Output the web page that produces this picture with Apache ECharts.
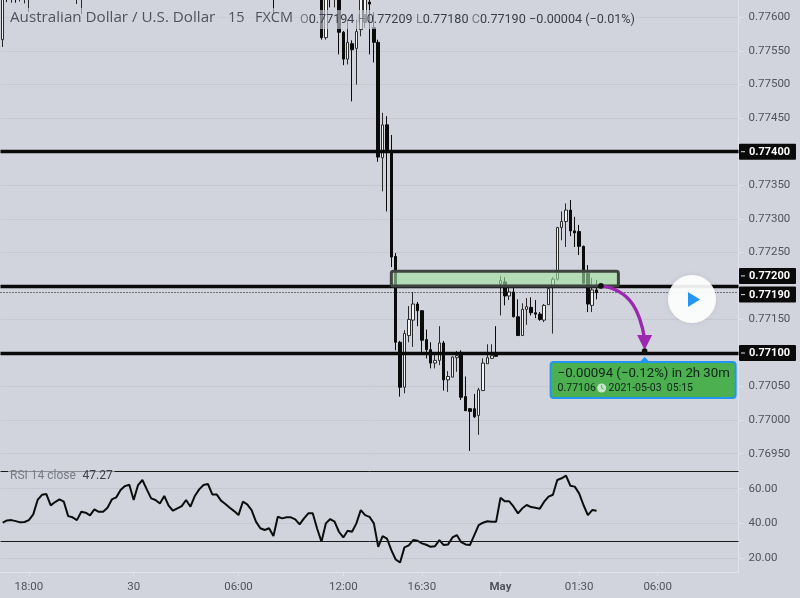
<!DOCTYPE html>
<html><head><meta charset="utf-8">
<style>html,body{margin:0;padding:0;background:#d1d4dc}#c{width:800px;height:598px}</style>
<script src="https://cdn.jsdelivr.net/npm/echarts@6/dist/echarts.min.js"></script>
</head><body><div id="c"></div>
<script>
// [open, high, low, close] per 15-minute bar
const priceBars = [
[0.77567,0.77670,0.77556,0.77660],[0.77650,0.77665,0.77623,0.77640],[0.77640,0.77660,0.77622,0.77655],[0.77655,0.77672,0.77622,0.77640],
[0.77640,0.77660,0.77624,0.77650],[0.77650,0.77668,0.77621,0.77662],[0.77662,0.77690,0.77608,0.77680],[0.77680,0.77705,0.77665,0.77700],
[0.77700,0.77725,0.77690,0.77715],[0.77715,0.77740,0.77700,0.77735],[0.77735,0.77750,0.77715,0.77725],[0.77725,0.77745,0.77705,0.77715],
[0.77715,0.77735,0.77695,0.77700],[0.77700,0.77720,0.77680,0.77710],[0.77710,0.77730,0.77690,0.77695],[0.77695,0.77710,0.77660,0.77670],
[0.77670,0.77685,0.77645,0.77650],[0.77650,0.77670,0.77620,0.77660],[0.77660,0.77680,0.77605,0.77670],[0.77670,0.77690,0.77650,0.77680],
[0.77680,0.77695,0.77660,0.77670],[0.77670,0.77700,0.77655,0.77690],[0.77690,0.77705,0.77670,0.77680],[0.77680,0.77700,0.77665,0.77685],
[0.77685,0.77715,0.77675,0.77705],[0.77705,0.77735,0.77695,0.77725],[0.77725,0.77745,0.77710,0.77735],[0.77735,0.77770,0.77725,0.77760],
[0.77760,0.77785,0.77745,0.77775],[0.77775,0.77795,0.77760,0.77785],[0.77785,0.77800,0.77745,0.77755],[0.77755,0.77800,0.77745,0.77790],
[0.77790,0.77825,0.77780,0.77815],[0.77815,0.77830,0.77785,0.77795],[0.77795,0.77810,0.77765,0.77775],[0.77775,0.77790,0.77755,0.77770],
[0.77770,0.77785,0.77750,0.77760],[0.77760,0.77790,0.77750,0.77780],[0.77780,0.77795,0.77745,0.77755],[0.77755,0.77770,0.77730,0.77740],
[0.77740,0.77760,0.77730,0.77750],[0.77750,0.77770,0.77740,0.77760],[0.77760,0.77785,0.77750,0.77775],[0.77775,0.77790,0.77750,0.77760],
[0.77760,0.77795,0.77750,0.77785],[0.77785,0.77815,0.77775,0.77805],[0.77805,0.77835,0.77795,0.77825],[0.77825,0.77845,0.77810,0.77830],
[0.77830,0.77840,0.77795,0.77805],[0.77805,0.77820,0.77790,0.77810],[0.77810,0.77820,0.77780,0.77790],[0.77790,0.77800,0.77765,0.77775],
[0.77775,0.77790,0.77750,0.77760],[0.77760,0.77775,0.77735,0.77745],[0.77745,0.77760,0.77715,0.77725],[0.77725,0.77770,0.77715,0.77760],
[0.77760,0.77775,0.77735,0.77750],[0.77750,0.77760,0.77720,0.77730],[0.77730,0.77745,0.77690,0.77700],[0.77700,0.77715,0.77670,0.77680],
[0.77680,0.77695,0.77660,0.77670],[0.77670,0.77685,0.77660,0.77680],[0.77680,0.77690,0.77605,0.77640],[0.77640,0.77705,0.77630,0.77695],
[0.77695,0.77710,0.77680,0.77690],[0.77690,0.77705,0.77680,0.77700],[0.77700,0.77715,0.77685,0.77695],[0.77695,0.77710,0.77670,0.77680],
[0.77680,0.77700,0.77660,0.77690],[0.77690,0.77720,0.77680,0.77710],[0.77710,0.77725,0.77690,0.77700],[0.77700,0.77710,0.77640,0.77650],
[0.77650,0.77665,0.77635,0.77645],[0.77640,0.77650,0.77567,0.77570],[0.77570,0.77650,0.77567,0.77640],[0.77650,0.77660,0.77615,0.77635],
[0.77645,0.77670,0.77615,0.77660],[0.77640,0.77650,0.77545,0.77578],[0.77578,0.77580,0.77529,0.77538],[0.77538,0.77597,0.77530,0.77563],
[0.77561,0.77566,0.77475,0.77552],[0.77554,0.77597,0.77500,0.77579],[0.77582,0.77640,0.77572,0.77630],[0.77593,0.77640,0.77585,0.77630],
[0.77623,0.77640,0.77545,0.77620],[0.77585,0.77608,0.77533,0.77563],[0.77563,0.77567,0.77385,0.77392],[0.77391,0.77458,0.77341,0.77440],
[0.77440,0.77453,0.77311,0.77403],[0.77400,0.77425,0.77228,0.77243],[0.77244,0.77249,0.77104,0.77116],[0.77116,0.77118,0.77035,0.77049],
[0.77049,0.77134,0.77040,0.77129],[0.77126,0.77170,0.77116,0.77150],[0.77149,0.77191,0.77109,0.77173],[0.77173,0.77176,0.77140,0.77163],
[0.77163,0.77164,0.77101,0.77119],[0.77120,0.77135,0.77092,0.77105],[0.77105,0.77116,0.77077,0.77085],[0.77085,0.77099,0.77077,0.77089],
[0.77089,0.77140,0.77082,0.77115],[0.77115,0.77118,0.77044,0.77060],[0.77060,0.77073,0.77042,0.77065],[0.77064,0.77095,0.77064,0.77094],
[0.77093,0.77103,0.77072,0.77096],[0.77101,0.77104,0.77030,0.77034],[0.77035,0.77065,0.77014,0.77014],[0.77017,0.77018,0.76954,0.77013],
[0.77017,0.77039,0.77003,0.77005],[0.77007,0.77048,0.76978,0.77045],[0.77044,0.77092,0.77044,0.77085],[0.77084,0.77113,0.77084,0.77093],
[0.77092,0.77113,0.77092,0.77096],[0.77097,0.77140,0.77094,0.77095],[0.77203,0.77215,0.77156,0.77208],[0.77206,0.77213,0.77171,0.77185],
[0.77185,0.77197,0.77179,0.77191],[0.77191,0.77197,0.77153,0.77154],[0.77154,0.77180,0.77126,0.77126],[0.77126,0.77174,0.77126,0.77165],
[0.77165,0.77182,0.77142,0.77169],[0.77168,0.77183,0.77156,0.77160],[0.77160,0.77179,0.77152,0.77158],[0.77158,0.77161,0.77148,0.77150],
[0.77149,0.77173,0.77146,0.77171],[0.77172,0.77197,0.77172,0.77196],[0.77201,0.77213,0.77129,0.77210],[0.77210,0.77288,0.77208,0.77287],
[0.77287,0.77311,0.77268,0.77296],[0.77296,0.77323,0.77258,0.77313],[0.77313,0.77328,0.77274,0.77282],[0.77282,0.77303,0.77258,0.77279],
[0.77281,0.77291,0.77246,0.77259],[0.77259,0.77260,0.77203,0.77204],[0.77219,0.77231,0.77161,0.77173],[0.77171,0.77212,0.77161,0.77194],
[0.77194,0.77209,0.77180,0.77190]
];
const rsiValues = [
40.4,41.7,41.9,41.3,40.6,40.8,41.9,45.2,53.5,56.5,56.9,50.4,52.3,53.8,52.5,44.2,43.5,41.9,46.7,46.2,44.6,48.1,46.7,46.7,49,53.8,55,59.2,61.5,62.3,
53.5,62.1,65,59.6,54.4,53.5,51.5,55.8,50.2,47.3,48.7,50,53.5,49.6,55.8,59.6,62.1,62.7,56.7,56.7,53.1,51.2,49,47.1,44.8,52.5,51,47.7,41,37.2,
36.2,37.2,32.7,43.8,42.9,43.5,43.5,42.3,39.4,42.9,45.8,45.8,37.1,29.4,40,42.5,41,35.2,31.9,35.8,35.2,40,47.7,44.8,43.8,40,26.5,32.7,31.3,24.6,
19.2,17.5,26.2,27.3,30.4,30,28.5,27.7,26.5,26.9,30.4,27.5,27.9,31.9,33.3,29.2,27.9,27.5,33.3,39,40.4,41.2,41,41,54.8,52.7,52.7,49.6,45.8,48.7,
50.6,49.4,49,48.5,52.5,55.4,56.5,65,66,67.5,61.7,61.2,57.3,50.6,44.8,47.7,47.27
];
const slotCount = 169;
const timeTickIndex = [6,30,54,78,96,114,132,150];
const timeTickLabels = ['18:00','30','06:00','12:00','16:30','May','01:30','06:00'];
const priceTicks = [0.776,0.7755,0.775,0.7745,0.7735,0.773,0.7725,0.7715,0.7705,0.77,0.7695];
const priceGrid = [0.776,0.7755,0.775,0.7745,0.774,0.7735,0.773,0.7725,0.772,0.7715,0.771,0.7705,0.77,0.7695];
const rsiTicks = [20,40,60];
const rsiBands = [70,30];
const levels = [0.774,0.772,0.771];
const lastClose = 0.7719;
const zone = {from:89,to:141,low:0.772,high:0.77222};
const arrowPath = [[137,0.772],[144,0.77194],[146.2,0.7716],[146.8,0.77121]];
const target = [147,0.77103];
const legendName = 'Australian Dollar / U.S. Dollar';
const legendInterval = '15';
const legendSource = 'FXCM';
const legendValues = ['0.77194','0.77209','0.77180','0.77190','\u22120.00004 (\u22120.01%)'];

const categories = Array.from({length:slotCount},(_,i)=>{const k=timeTickIndex.indexOf(i);return k>=0?timeTickLabels[k]:''});
const isTick = i=>timeTickIndex.includes(i);
const FONT='Roboto';
const TXT='#50535e', GRID='#c6c9d2', EDGE='#e0e3eb';

function renderOverlay(params, api){
  const ch=[];
  const z0=api.coord([zone.from,zone.high]), z1=api.coord([zone.to,zone.low]);
  ch.push({type:'rect',shape:{x:z0[0],y:z0[1],width:z1[0]-z0[0],height:z1[1]-z0[1],r:2},
    style:{fill:'rgba(162,224,160,0.62)',stroke:'#3f4441',lineWidth:3}});
  const p=arrowPath.map(a=>api.coord(a)), t=api.coord(target);
  ch.push({type:'bezierCurve',shape:{x1:p[0][0],y1:p[0][1],cpx1:p[1][0],cpy1:p[1][1],cpx2:p[2][0],cpy2:p[2][1],x2:p[3][0],y2:p[3][1]},
    style:{fill:null,stroke:'#9c27b0',lineWidth:3.4}});
  ch.push({type:'polygon',shape:{points:[[t[0]-7.5,t[1]-16],[t[0]+7.5,t[1]-16],[t[0],t[1]-1]]},style:{fill:'#9c27b0'}});
  ch.push({type:'circle',shape:{cx:p[0][0],cy:p[0][1],r:2.8},style:{fill:'#111'}});
  ch.push({type:'circle',shape:{cx:t[0],cy:t[1],r:2.8},style:{fill:'#111'}});
  const bx=t[0]-94, by=t[1]+11;
  ch.push({type:'polygon',shape:{points:[[t[0]-5,by],[t[0]+5,by],[t[0],by-5]]},style:{fill:'#2196f3'}});
  ch.push({type:'rect',shape:{x:bx,y:by,width:185,height:36,r:3},style:{fill:'#4caf50',stroke:'#2196f3',lineWidth:2}});
  ch.push({type:'text',style:{x:bx+7,y:by+12,text:'\u22120.00094 (\u22120.12%) in 2h 30m',fill:'#10231a',font:'13.2px '+FONT,verticalAlign:'middle'}});
  ch.push({type:'text',style:{x:bx+7,y:by+26,text:'0.77106',fill:'#10231a',font:'10.5px '+FONT,verticalAlign:'middle'}});
  ch.push({type:'circle',shape:{cx:bx+51,cy:by+26,r:4.5},style:{fill:'#c8e6c9'}});
  ch.push({type:'polyline',shape:{points:[[bx+51,by+23],[bx+51,by+26],[bx+53,by+27]]},style:{fill:null,stroke:'#4caf50',lineWidth:1}});
  ch.push({type:'text',style:{x:bx+58,y:by+26,text:'2021-05-03  05:15',fill:'#10231a',font:'10.5px '+FONT,verticalAlign:'middle'}});
  const tags=[[levels[0],0],[levels[1],-10],[lastClose,2],[levels[2],0]];
  tags.forEach(([v,dy])=>{
    const c=api.coord([0,v]), yy=c[1]+dy;
    ch.push({type:'rect',shape:{x:739,y:yy-8,width:57,height:16,r:1},style:{fill:'#0a0a0a'}});
    ch.push({type:'rect',shape:{x:741,y:yy-0.5,width:4,height:1},style:{fill:'#e0e3eb'}});
    ch.push({type:'text',style:{x:749,y:yy+0.5,text:v.toFixed(5),fill:'#ffffff',font:'bold 11px '+FONT,verticalAlign:'middle'}});
  });
  return {type:'group',children:ch};
}

const chart=echarts.init(document.getElementById('c'),null,{renderer:'canvas'});
const BAND='rgba(209,212,220,0.62)';
const legendRich={n:{fill:TXT,font:'14.5px "Open Sans"'},m:{fill:TXT,font:'15.2px "Open Sans"'},t:{fill:'#787b86',font:'12.6px '+FONT},v:{fill:'#3c3f4a',font:'12.6px '+FONT}};
chart.setOption({
  animation:false,backgroundColor:'#d1d4dc',
  textStyle:{fontFamily:FONT},
  grid:[{left:0.5,top:0,width:738,height:466},{left:0.5,top:467,width:738,height:105}],
  xAxis:[
    {type:'category',gridIndex:0,data:categories,boundaryGap:true,
      axisLine:{show:false},axisTick:{show:false},axisLabel:{show:false},splitLine:{show:false}},
    {type:'category',gridIndex:1,data:categories,boundaryGap:true,
      axisLine:{show:true,lineStyle:{color:EDGE,width:1}},
      axisTick:{show:true,length:4,lineStyle:{color:EDGE},interval:isTick,alignWithLabel:true},
      axisLabel:{interval:isTick,color:TXT,fontSize:11.5,margin:9,fontFamily:FONT,
        formatter:v=>v==='May'?'{b|May}':v,rich:{b:{fontWeight:'bold',color:TXT,fontSize:11.5,fontFamily:FONT}}},
      splitLine:{show:false}}
  ],
  yAxis:[
    {type:'value',gridIndex:0,position:'right',min:0.769316,max:0.776261,scale:true,
      axisLine:{show:true,lineStyle:{color:EDGE}},
      axisTick:{show:true,length:5,lineStyle:{color:EDGE},customValues:priceGrid},
      axisLabel:{color:TXT,fontSize:11.5,fontFamily:FONT,margin:10,customValues:priceTicks,formatter:v=>v.toFixed(5)},
      splitLine:{show:true,lineStyle:{color:GRID,width:1}}},
    {type:'value',gridIndex:1,position:'right',min:12,max:72.5,
      axisLine:{show:true,lineStyle:{color:EDGE}},
      axisTick:{show:true,length:5,lineStyle:{color:EDGE},customValues:rsiTicks},
      axisLabel:{color:TXT,fontSize:11.5,fontFamily:FONT,margin:10,customValues:rsiTicks,formatter:v=>v.toFixed(2)},
      splitLine:{show:true,lineStyle:{color:GRID,width:1}}}
  ],
  series:[
    {type:'candlestick',xAxisIndex:0,yAxisIndex:0,clip:true,barWidth:3,z:3,
      data:priceBars.map(b=>[b[0],b[3],b[2],b[1]]),
      itemStyle:{color:'#f4f5f7',color0:'#0b0b0b',borderColor:'#2a2a2a',borderColor0:'#0b0b0b',borderWidth:1},
      markLine:{silent:true,symbol:'none',z:4,precision:5,label:{show:false},animation:false,
        data:[
          ...levels.map(v=>({yAxis:v,lineStyle:{color:'#0a0a0a',width:3.4,type:'solid'}})),
          {yAxis:lastClose,lineStyle:{color:'#111',width:1,type:[1,2]}}
        ]}},
    {type:'line',xAxisIndex:1,yAxisIndex:1,data:rsiValues,showSymbol:false,symbol:'none',z:3,
      lineStyle:{color:'#0d0d0d',width:2},
      markLine:{silent:true,symbol:'none',label:{show:false},animation:false,
        data:rsiBands.map(v=>({yAxis:v,lineStyle:{color:'#1a1a1a',width:1,type:'solid'}}))}},
    {type:'custom',xAxisIndex:0,yAxisIndex:0,data:[0],z:8,clip:false,silent:true,renderItem:renderOverlay}
  ],
  graphic:[
    {type:'text',z:20,left:8,top:8,style:{text:`{m|${legendName}}`,backgroundColor:BAND,padding:[2,6,2,2],rich:legendRich}},
    {type:'text',z:20,left:226,top:8,style:{text:`{n|${legendInterval}}`,backgroundColor:BAND,padding:[2,6,2,2],rich:legendRich}},
    {type:'text',z:20,left:253,top:8,style:{text:`{n|${legendSource}}`,backgroundColor:BAND,padding:[2,6,2,2],rich:legendRich}},
    {type:'text',z:20,left:298,top:10,style:{
      text:`{t|O}{v|${legendValues[0]}} {t|H}{v|${legendValues[1]}} {t|L}{v|${legendValues[2]}} {t|C}{v|${legendValues[3]}} {v|${legendValues[4]}}`,
      backgroundColor:BAND,padding:[3,4,3,2],rich:legendRich}},
    {type:'text',z:20,left:8,top:468,style:{
      text:'{n|RSI 14 close}  {v|47.27}',backgroundColor:BAND,padding:[2,2,2,2],
      rich:{n:{fill:'#787b86',font:'12px '+FONT},v:{fill:'#3c3f4a',font:'12px '+FONT}}}},
    {type:'circle',z:21,shape:{cx:692,cy:299,r:24},style:{fill:'rgba(255,255,255,0.92)',shadowBlur:6,shadowColor:'rgba(0,0,0,0.08)'}},
    {type:'polygon',z:22,shape:{points:[[688,292],[700,299.5],[688,307]]},style:{fill:'#2196f3'}}
  ]
});
</script></body></html>
